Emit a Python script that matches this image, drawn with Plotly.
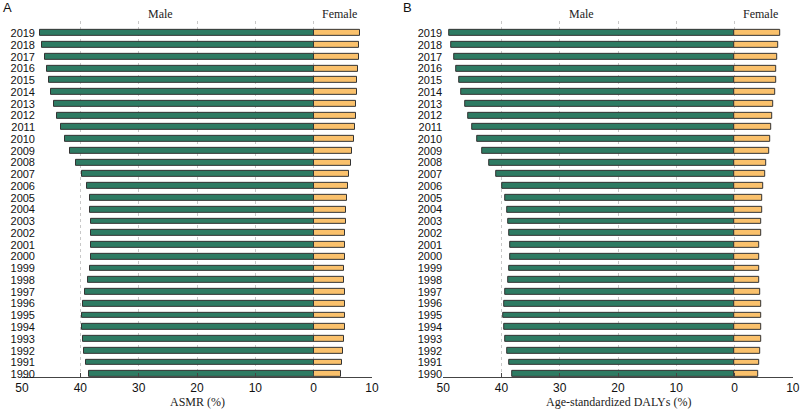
import plotly.graph_objects as go

# Years, bottom (1990) to top (2019)
years = list(range(1990, 2020))

# Panel A: ASMR (%)
asmr_male = [38.5, 39.0, 39.3, 39.5, 39.7, 39.7, 39.5, 39.2, 38.7, 38.3,
             38.1, 38.1, 38.1, 38.2, 38.3, 38.4, 38.9, 39.7, 40.8, 41.8,
             42.6, 43.4, 44.0, 44.5, 45.0, 45.4, 45.7, 46.1, 46.5, 47.0]
asmr_female = [4.6, 4.9, 5.0, 5.2, 5.3, 5.3, 5.3, 5.3, 5.2, 5.2,
               5.3, 5.3, 5.4, 5.5, 5.6, 5.7, 5.9, 6.1, 6.4, 6.6,
               6.9, 7.1, 7.2, 7.3, 7.4, 7.5, 7.6, 7.7, 7.8, 7.9]

# Panel B: Age-standardized DALYs (%)
dalys_male = [38.1, 38.7, 39.0, 39.3, 39.5, 39.7, 39.6, 39.3, 38.9, 38.6,
              38.5, 38.5, 38.7, 38.9, 39.0, 39.3, 39.9, 40.9, 42.1, 43.3,
              44.2, 45.0, 45.7, 46.3, 46.9, 47.3, 47.7, 48.1, 48.6, 49.0]
dalys_female = [4.0, 4.2, 4.4, 4.6, 4.5, 4.5, 4.5, 4.4, 4.3, 4.3,
                4.3, 4.3, 4.5, 4.6, 4.7, 4.8, 5.0, 5.3, 5.5, 5.9,
                6.1, 6.3, 6.5, 6.7, 6.9, 7.1, 7.2, 7.3, 7.5, 7.8]

tick_vals = [50, 40, 30, 20, 10, 0, -10]
tick_text = ['50', '40', '30', '20', '10', '0', '10']

MALE_COLOR = '#2E7B63'
FEMALE_COLOR = '#FAC16C'
SERIF = 'Liberation Serif, Times New Roman, serif'
SANS = 'Liberation Sans, Arial, sans-serif'

fig = go.Figure()

panels = [
    ('x', 'y', asmr_male, asmr_female),
    ('x2', 'y2', dalys_male, dalys_female),
]

for xa, ya, male, female in panels:
    # male bars grow to the left on a reversed axis
    fig.add_trace(go.Bar(
        y=years, x=male, orientation='h', xaxis=xa, yaxis=ya,
        width=0.5, marker=dict(color=MALE_COLOR, line=dict(color='#333333', width=1)),
        showlegend=False
    ))
    fig.add_trace(go.Bar(
        y=years, x=[-v for v in female], orientation='h', xaxis=xa, yaxis=ya,
        width=0.5, marker=dict(color=FEMALE_COLOR, line=dict(color='#333333', width=1)),
        showlegend=False
    ))

xaxis_common = dict(
    range=[50, -10],
    tickvals=tick_vals,
    ticktext=tick_text,
    showgrid=True,
    gridcolor='#c8c8c8',
    griddash='dot',
    gridwidth=1,
    zeroline=False,
    showline=True,
    linecolor='#444444',
    linewidth=1,
    ticks='inside',
    ticklen=4,
    tickcolor='#444444',
    tickfont=dict(family=SANS, size=12, color='#111111'),
    automargin=False,
)

yaxis_common = dict(
    range=[1989.75, 2020.05],
    tickvals=years,
    ticktext=[str(y) for y in years],
    showgrid=False,
    zeroline=False,
    showline=False,
    ticks='',
    tickfont=dict(family=SANS, size=11, color='#111111'),
    automargin=False,
)

fig.update_layout(
    width=800,
    height=409,
    margin=dict(l=0, r=0, t=0, b=0),
    plot_bgcolor='white',
    paper_bgcolor='white',
    barmode='overlay',
    bargap=0,
    xaxis=dict(xaxis_common, domain=[0.0275, 0.465], anchor='y'),
    xaxis2=dict(xaxis_common, domain=[0.554, 0.991], anchor='y2'),
    yaxis=dict(yaxis_common, domain=[0.078, 0.949], anchor='x', ticklabelstandoff=-14),
    yaxis2=dict(yaxis_common, domain=[0.078, 0.949], anchor='x2', ticklabelstandoff=0),
)

# Male / Female headers above each half, axis titles below
for xa, title in [('x', 'ASMR (%)'), ('x2', 'Age-standardized DALYs (%)')]:
    fig.add_annotation(x=26.3, y=1 - 14 / 409, xref=xa, yref='paper', text='Male',
                       yanchor='middle', showarrow=False,
                       font=dict(family=SERIF, size=12, color='#222222'))
    fig.add_annotation(x=-4.5, y=1 - 14 / 409, xref=xa, yref='paper', text='Female',
                       yanchor='middle', showarrow=False,
                       font=dict(family=SERIF, size=12, color='#222222'))
    fig.add_annotation(x=20, y=1 - 402 / 409, xref=xa, yref='paper', text=title,
                       yanchor='middle', showarrow=False,
                       font=dict(family=SERIF, size=12, color='#222222'))

# Panel letters
fig.add_annotation(x=7 / 800, y=1 - 7 / 409, xref='paper', yref='paper', text='A',
                   xanchor='center', yanchor='middle', showarrow=False,
                   font=dict(family=SANS, size=13, color='#111111'))
fig.add_annotation(x=407 / 800, y=1 - 7 / 409, xref='paper', yref='paper', text='B',
                   xanchor='center', yanchor='middle', showarrow=False,
                   font=dict(family=SANS, size=13, color='#111111'))

# drop the default 8px body margin so the figure fills the window
fig.write_html("out.html", config={'displayModeBar': False},
               post_script="document.body.style.margin='0px';")
